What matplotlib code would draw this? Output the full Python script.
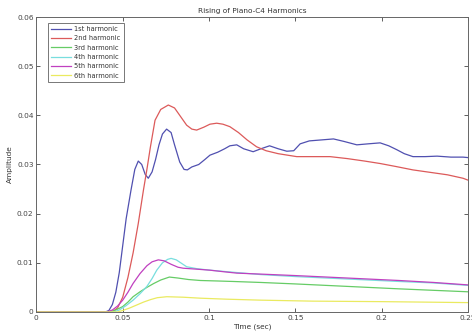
import matplotlib
matplotlib.use("Agg")
import matplotlib.pyplot as plt

# Harmonic amplitude envelopes (time in seconds, amplitude)
t1 = [0, 0.040, 0.042, 0.044, 0.046, 0.048, 0.050, 0.052, 0.0548, 0.057, 0.059, 0.061, 0.063, 0.0648,
      0.067, 0.069, 0.071, 0.073, 0.0754, 0.078, 0.080, 0.083, 0.0855, 0.0874, 0.090, 0.094, 0.0975,
      0.1005, 0.105, 0.109, 0.112, 0.116, 0.120, 0.1255, 0.130, 0.135, 0.140, 0.145, 0.149, 0.1527,
      0.158, 0.165, 0.172, 0.178, 0.1855, 0.192, 0.199, 0.204, 0.2087, 0.213, 0.218, 0.225, 0.232,
      0.240, 0.247, 0.250]
h1 = [0, 0, 0.0003, 0.0015, 0.004, 0.008, 0.0135, 0.019, 0.0248, 0.0290, 0.0307, 0.0300, 0.0280, 0.0272,
      0.0285, 0.0310, 0.0340, 0.0362, 0.0372, 0.0365, 0.0340, 0.0305, 0.0290, 0.0289, 0.0295, 0.0300, 0.0310,
      0.0319, 0.0325, 0.0332, 0.0338, 0.0340, 0.0332, 0.0326, 0.0332, 0.0338, 0.0332, 0.0327, 0.0328, 0.0342,
      0.0348, 0.0350, 0.0352, 0.0347, 0.0340, 0.0342, 0.0344, 0.0338, 0.0330, 0.0322, 0.0316, 0.0316, 0.0317,
      0.0315, 0.0315, 0.0314]

t2 = [0, 0.043, 0.045, 0.047, 0.050, 0.053, 0.056, 0.059, 0.062, 0.064, 0.066, 0.0687, 0.072, 0.0764,
      0.080, 0.084, 0.087, 0.090, 0.0928, 0.097, 0.1005, 0.1044, 0.108, 0.112, 0.117, 0.122, 0.1275,
      0.133, 0.140, 0.1507, 0.160, 0.170, 0.180, 0.190, 0.199, 0.208, 0.218, 0.228, 0.238, 0.247, 0.250]
h2 = [0, 0, 0.0003, 0.0008, 0.003, 0.007, 0.012, 0.018, 0.0248, 0.0290, 0.0335, 0.0390, 0.0412, 0.0421,
      0.0415, 0.0395, 0.0380, 0.0372, 0.0370, 0.0376, 0.0382, 0.0384, 0.0382, 0.0377, 0.0365, 0.0350, 0.0336,
      0.0328, 0.0322, 0.0316, 0.0316, 0.0316, 0.0312, 0.0307, 0.0302, 0.0296, 0.0289, 0.0284, 0.0279, 0.0272,
      0.0268]

t3 = [0, 0.043, 0.046, 0.050, 0.053, 0.056, 0.060, 0.064, 0.068, 0.072, 0.077, 0.082, 0.088, 0.095,
      0.105, 0.114, 0.130, 0.150, 0.180, 0.210, 0.230, 0.250]
h3 = [0, 0, 0.0004, 0.0011, 0.0020, 0.0031, 0.0041, 0.0050, 0.0058, 0.0065, 0.0071, 0.0069, 0.0066, 0.0064,
      0.0063, 0.0062, 0.0060, 0.0057, 0.0052, 0.0047, 0.0044, 0.0041]

t4 = [0, 0.045, 0.048, 0.052, 0.056, 0.060, 0.064, 0.067, 0.0697, 0.073, 0.076, 0.078, 0.081, 0.084,
      0.087, 0.093, 0.1005, 0.110, 0.120, 0.130, 0.150, 0.180, 0.210, 0.230, 0.250]
h4 = [0, 0, 0.0004, 0.0013, 0.0024, 0.0037, 0.0052, 0.0068, 0.0085, 0.0100, 0.0107, 0.0109, 0.0106, 0.0099,
      0.0092, 0.0088, 0.0085, 0.0082, 0.0079, 0.0076, 0.0072, 0.0067, 0.0062, 0.0059, 0.0054]

t5 = [0, 0.041, 0.044, 0.047, 0.050, 0.053, 0.056, 0.060, 0.064, 0.067, 0.0706, 0.074, 0.078, 0.082,
      0.085, 0.093, 0.1005, 0.108, 0.116, 0.130, 0.150, 0.180, 0.210, 0.230, 0.250]
h5 = [0, 0, 0.0004, 0.0012, 0.0024, 0.0040, 0.0058, 0.0078, 0.0094, 0.0102, 0.0106, 0.0104, 0.0097, 0.0091,
      0.0089, 0.0087, 0.0085, 0.0082, 0.0079, 0.0077, 0.0074, 0.0069, 0.0064, 0.0060, 0.0055]

t6 = [0, 0.047, 0.050, 0.054, 0.058, 0.062, 0.066, 0.070, 0.0755, 0.085, 0.095, 0.110, 0.130, 0.160,
      0.200, 0.250]
h6 = [0, 0, 0.0003, 0.0008, 0.0014, 0.0020, 0.0025, 0.0029, 0.0031, 0.0030, 0.0028, 0.0026, 0.0024, 0.0022,
      0.0021, 0.0019]

labels = ["1st harmonic", "2nd harmonic", "3rd harmonic", "4th harmonic", "5th harmonic", "6th harmonic"]
colors = ["#5050b0", "#dc5a5a", "#66cc66", "#78dede", "#c040c0", "#eaea60"]

x_ticks = [0, 0.05, 0.1, 0.15, 0.2, 0.25]
x_tick_labels = ["0", "0.05", "0.1", "0.15", "0.2", "0.25"]
y_ticks = [0, 0.01, 0.02, 0.03, 0.04, 0.05, 0.06]
y_tick_labels = ["0", "0.01", "0.02", "0.03", "0.04", "0.05", "0.06"]

fig = plt.figure(figsize=(4.72, 3.34), dpi=100)
ax = fig.add_axes([0.077, 0.066, 0.915, 0.883])

series = [(t1, h1), (t2, h2), (t3, h3), (t4, h4), (t5, h5), (t6, h6)]
for (t, h), lab, c in zip(series, labels, colors):
    ax.plot(t, h, color=c, lw=0.9, label=lab)

ax.set_xlim(0, 0.25)
ax.set_ylim(0, 0.06)
ax.set_xticks(x_ticks)
ax.set_xticklabels(x_tick_labels)
ax.set_yticks(y_ticks)
ax.set_yticklabels(y_tick_labels)
ax.tick_params(direction="in", length=3, width=0.6, labelsize=5.3, colors="#444444",
               top=True, right=True, pad=2)
for s in ax.spines.values():
    s.set_color("#666666")
    s.set_linewidth(0.7)

ax.set_title("Rising of Piano-C4 Harmonics", fontsize=5.3, color="#333333", pad=3)
ax.set_xlabel("Time (sec)", fontsize=5.3, color="#333333", labelpad=2)
ax.set_ylabel("Amplitude", fontsize=5.3, color="#333333", labelpad=3)

leg = ax.legend(loc="upper left", fontsize=4.8, frameon=True, fancybox=False,
                borderpad=0.45, labelspacing=0.5, handlelength=3.0, handletextpad=0.5,
                borderaxespad=0.0, bbox_to_anchor=(0.027, 0.98))
leg.get_frame().set_edgecolor("#555555")
leg.get_frame().set_linewidth(0.7)
for txt in leg.get_texts():
    txt.set_color("#333333")

fig.savefig("out.png", dpi=100)
